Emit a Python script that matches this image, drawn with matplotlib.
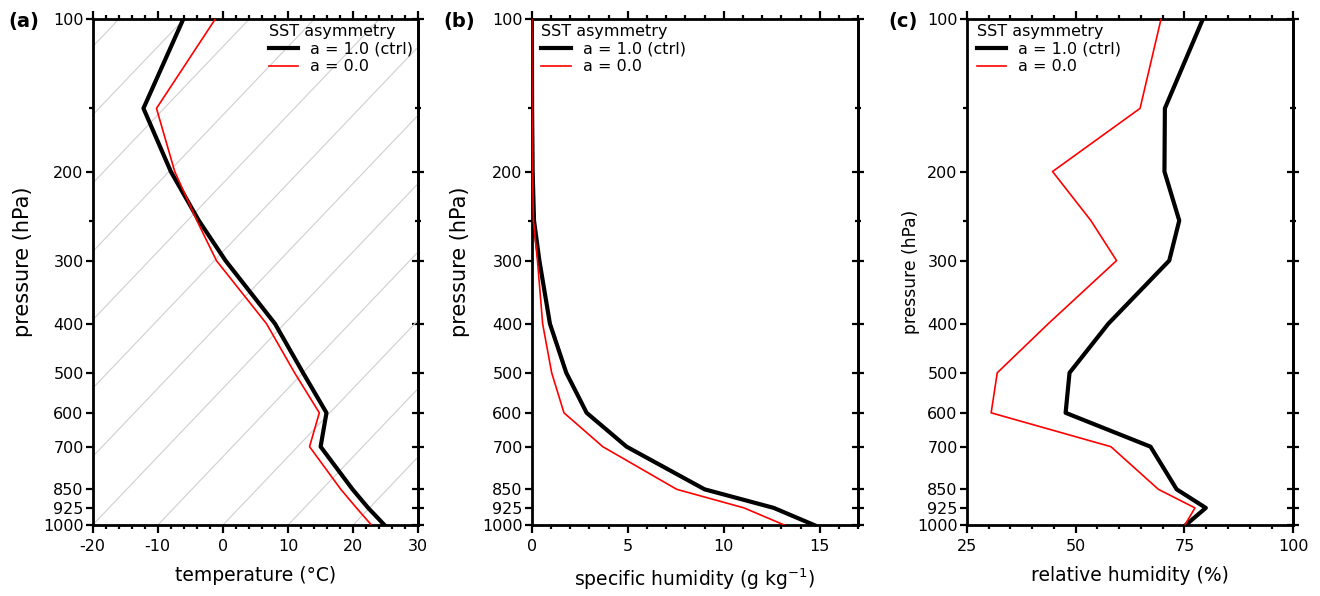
import numpy as np
import matplotlib
matplotlib.use("Agg")
import matplotlib.pyplot as plt
from matplotlib.ticker import FixedLocator, MultipleLocator, NullFormatter

# ---------------- data ----------------
pressure = [100, 150, 200, 250, 300, 400, 500, 600, 700, 850, 925, 1000]

temp_ctrl = [-6.1, -12.2, -8.0, -3.7, 0.4, 8.0, 12.3, 15.9, 15.0, 19.9, 22.3, 24.8]
temp_a0   = [-1.2, -10.2, -7.4, -4.0, -1.0, 6.7, 11.0, 14.8, 13.3, 18.1, 20.5, 22.8]

q_ctrl = [0.01, 0.02, 0.05, 0.12, 0.40, 0.95, 1.80, 2.86, 4.94, 9.0, 12.6, 14.7]
q_a0   = [0.01, 0.02, 0.04, 0.09, 0.30, 0.57, 1.04, 1.68, 3.70, 7.55, 11.05, 13.15]

rh_ctrl = [79.2, 70.5, 70.4, 73.8, 71.5, 57.5, 48.6, 47.7, 67.2, 73.2, 79.9, 75.3]
rh_a0   = [69.6, 64.8, 44.7, 53.5, 59.4, 43.7, 32.0, 30.6, 58.1, 69.0, 77.4, 75.1]

ytick_major = [100, 200, 300, 400, 500, 600, 700, 850, 925, 1000]
ytick_minor = [150, 250]
isotherms = list(range(-120, 40, 10))   # skewed isotherms in panel (a), degC at 1000 hPa

legend_title = "SST asymmetry"
label_ctrl = "a = 1.0 (ctrl)"
label_a0 = "a = 0.0"

# ---------------- figure ----------------
plt.rcParams['font.family'] = ['DejaVu Sans']
plt.rcParams['axes.unicode_minus'] = False
fig = plt.figure(figsize=(13.2, 5.96), dpi=100)

H = 0.8485
B = 0.1191
positions = [(0.0702, B, 0.2467, H), (0.4028, B, 0.2474, H), (0.7324, B, 0.2474, H)]
axes = [fig.add_axes(p) for p in positions]

SKEW = 74.0

def style_axis(ax, xmin, xmax, xmajor, xminor, ylabel_size, ylabel_xy):
    ax.set_yscale('log')
    ax.set_ylim(1000, 100)
    ax.set_xlim(xmin, xmax)
    ax.yaxis.set_major_locator(FixedLocator(ytick_major))
    ax.yaxis.set_minor_locator(FixedLocator(ytick_minor))
    ax.set_yticklabels([str(v) for v in ytick_major])
    ax.yaxis.set_minor_formatter(NullFormatter())
    ax.xaxis.set_major_locator(MultipleLocator(xmajor))
    ax.xaxis.set_minor_locator(MultipleLocator(xminor))
    for s in ax.spines.values():
        s.set_linewidth(2.0)
    ax.tick_params(axis='x', which='both', direction='out', top=True, bottom=True,
                   labelsize=11.5, pad=4, width=1.6)
    ax.tick_params(axis='x', which='major', length=6)
    ax.tick_params(axis='x', which='minor', length=3)
    ax.tick_params(axis='y', which='both', direction='out', left=True, right=False,
                   labelsize=11.5, pad=1.5, width=1.6)
    ax.tick_params(axis='y', which='major', length=5)
    ax.tick_params(axis='y', which='minor', length=3)
    sec = ax.secondary_yaxis('right', functions=(lambda p: p, lambda p: p))
    sec.yaxis.set_major_locator(FixedLocator(ytick_major))
    sec.yaxis.set_minor_locator(FixedLocator(ytick_minor))
    sec.yaxis.set_major_formatter(NullFormatter())
    sec.yaxis.set_minor_formatter(NullFormatter())
    sec.tick_params(axis='y', which='both', direction='inout', width=1.6)
    sec.tick_params(axis='y', which='major', length=8)
    sec.tick_params(axis='y', which='minor', length=5)
    sec.spines['right'].set_linewidth(2.0)
    ax.set_ylabel("pressure (hPa)", fontsize=ylabel_size)
    ax.yaxis.set_label_coords(*ylabel_xy)

def add_legend(ax, loc, anchor):
    leg = ax.legend(title=legend_title, loc=loc, bbox_to_anchor=anchor, frameon=False,
                    fontsize=11.5, title_fontsize=11.5, handlelength=1.85,
                    handletextpad=0.75, borderpad=0, borderaxespad=0,
                    labelspacing=0.15, alignment='left')
    return leg

# ---- panel (a) temperature ----
ax = axes[0]
pp = np.array([100.0, 1000.0])
for T0 in isotherms:
    ax.plot(T0 + SKEW * np.log10(1000.0 / pp), pp, color='#cfcfcf', lw=0.8, zorder=1)
ax.plot(temp_ctrl, pressure, color='black', lw=3.0, label=label_ctrl, zorder=3)
ax.plot(temp_a0, pressure, color='red', lw=1.2, label=label_a0, zorder=3)
style_axis(ax, -20, 30, 10, 2, 15, (-0.183, 0.52))
ax.set_xlabel("temperature (\u00b0C)", fontsize=13.5, labelpad=9)
add_legend(ax, 'upper right', (0.985, 0.99))

# ---- panel (b) specific humidity ----
ax = axes[1]
ax.plot(q_ctrl, pressure, color='black', lw=3.0, label=label_ctrl, zorder=3)
ax.plot(q_a0, pressure, color='red', lw=1.2, label=label_a0, zorder=3)
style_axis(ax, 0, 17, 5, 1, 15, (-0.189, 0.52))
ax.set_xlabel("specific humidity (g kg$^{-1}$)", fontsize=13.5, labelpad=9)
add_legend(ax, 'upper left', (0.03, 0.99))

# ---- panel (c) relative humidity ----
ax = axes[2]
ax.plot(rh_ctrl, pressure, color='black', lw=3.0, label=label_ctrl, zorder=3)
ax.plot(rh_a0, pressure, color='red', lw=1.2, label=label_a0, zorder=3)
style_axis(ax, 25, 100, 25, 5, 12.3, (-0.143, 0.50))
ax.set_xlabel("relative humidity (%)", fontsize=13.5, labelpad=9)
add_legend(ax, 'upper left', (0.03, 0.99))

# panel labels
for lab, x in [("(a)", 8), ("(b)", 443), ("(c)", 888)]:
    fig.text(x / 1320, 1 - 21 / 596, lab, fontsize=14, fontweight='bold',
             ha='left', va='center')

fig.savefig("out.png", dpi=100)
